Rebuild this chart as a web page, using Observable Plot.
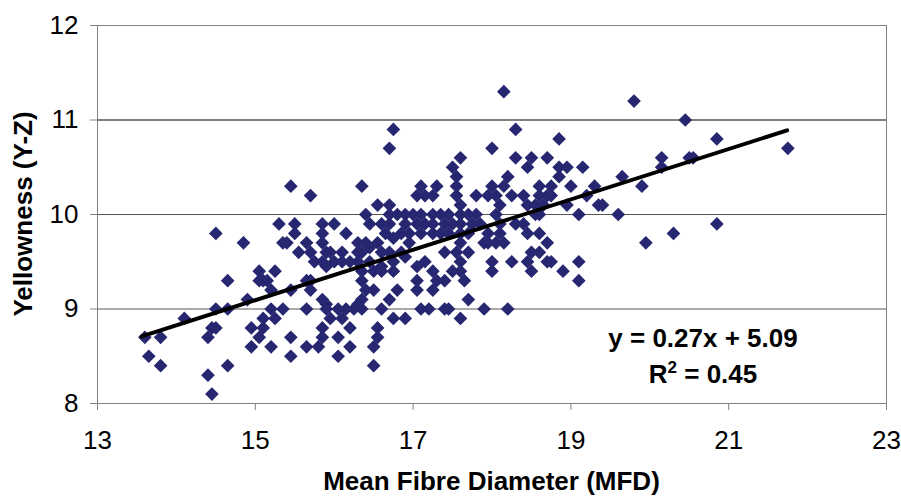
<!DOCTYPE html>
<html>
<head>
<meta charset="utf-8">
<script src="https://cdn.jsdelivr.net/npm/d3@7"></script>
<script src="https://cdn.jsdelivr.net/npm/@observablehq/plot@0.6"></script>
<style>
html, body { margin: 0; padding: 0; background: #fff; }
#chart { width: 901px; height: 497px; }
</style>
</head>
<body>
<div id="chart"></div>
<script>
// Mean Fibre Diameter (x) and Yellowness (y) values
const mfd = [
  13.6, 13.65, 13.8, 13.8, 14.1, 14.4, 14.45, 14.5, 14.4, 14.45,
  14.5, 14.5, 14.65, 14.65, 14.65, 14.85, 14.9, 14.95, 14.95, 15.05,
  15.05, 15.1, 15.15, 15.2, 15.1, 15.1, 15.05, 15.2, 15.25, 15.2,
  15.25, 15.35, 15.45, 15.45, 15.45, 15.45, 15.3, 15.35, 15.4, 15.5,
  15.5, 15.55, 15.7, 16.35, 16.55, 16.7, 16.4, 16.7, 16.8, 15.85,
  16.0, 15.85, 16.15, 15.65, 15.7, 15.85, 15.9, 15.85, 15.95, 16.1,
  16.2, 15.75, 15.9, 16.0, 16.1, 16.3, 16.4, 16.55, 16.65, 16.75,
  16.3, 16.35, 16.45, 16.6, 16.7, 16.3, 16.45, 16.6, 16.75, 16.35,
  16.5, 16.6, 16.75, 15.65, 15.7, 15.7, 15.85, 15.9, 16.35, 16.4,
  16.5, 16.35, 16.3, 16.7, 16.8, 15.65, 15.9, 16.05, 16.15, 16.25,
  16.35, 16.6, 15.95, 16.1, 15.85, 16.2, 16.75, 16.55, 15.65, 15.8,
  16.05, 16.2, 16.5, 16.5, 16.55, 16.05, 15.85, 16.9, 17.6, 17.1,
  17.2, 17.4, 17.45, 17.9, 17.7, 17.05, 17.25, 17.4, 17.05, 17.3,
  17.15, 17.5, 17.6, 17.65, 18.0, 16.75, 16.7, 17.6, 17.5, 17.55,
  18.0, 18.3, 18.5, 18.7, 18.45, 18.2, 18.15, 18.0, 17.1, 17.3,
  17.55, 17.05, 17.15, 17.25, 17.55, 17.8, 17.95, 18.05, 18.25, 18.4,
  18.6, 18.7, 17.6, 18.1, 18.45, 18.55, 18.6,
  16.9, 17.0, 17.1, 17.25, 17.35, 17.45, 17.6, 17.7, 17.8,
  16.9, 17.05, 17.15, 17.25, 17.4, 17.5, 17.6, 17.75,
  16.85, 16.95, 17.1, 17.25, 17.35, 17.45, 17.6, 17.7,
  18.05, 18.1, 18.3, 18.6, 18.7, 18.45, 18.5, 18.6, 18.7, 18.45,
  18.5, 18.25, 18.0, 17.9, 17.95, 18.1, 18.15, 17.7, 17.6, 17.4,
  17.55, 17.05, 17.25, 17.6, 18.2, 18.15, 19.8, 18.3, 18.85, 18.85,
  18.95, 19.15, 18.85, 19.65, 20.15, 20.15, 19.9, 18.75, 19.0, 19.3,
  18.6, 18.75, 19.2, 18.65, 18.95, 19.35, 19.4, 18.55, 19.1, 19.6,
  19.95, 20.3, 18.4, 17.85, 18.75, 18.9, 19.1, 19.1, 17.95, 18.05,
  20.5, 20.55, 20.45, 20.85, 21.75, 20.85, 16.45, 16.6, 16.7, 16.85,
  16.95, 16.9
];
const yz = [
  8.7, 8.5, 8.7, 8.4, 8.9, 8.7, 8.8, 8.8, 8.3, 8.1,
  9.8, 9.0, 9.0, 9.3, 8.4, 9.7, 9.1, 8.8, 8.6, 9.4,
  9.3, 9.3, 9.3, 9.2, 8.9, 8.8, 8.7, 9.0, 8.9, 8.6,
  9.4, 9.0, 9.2, 8.7, 8.5, 10.3, 9.9, 9.7, 9.7, 9.9,
  9.8, 9.6, 10.2, 10.3, 10.1, 10.1, 10.0, 10.0, 10.0, 9.9,
  9.9, 9.8, 9.8, 9.7, 9.6, 9.7, 9.6, 9.5, 9.6, 9.6,
  9.5, 9.5, 9.45, 9.5, 9.5, 9.7, 9.7, 9.7, 9.8, 9.75,
  9.6, 9.6, 9.65, 9.6, 9.6, 9.5, 9.5, 9.45, 9.5, 9.4,
  9.4, 9.4, 9.4, 9.3, 9.3, 9.2, 9.1, 9.05, 9.3, 9.2,
  9.2, 9.1, 9.05, 9.1, 9.2, 9.0, 9.0, 9.0, 9.0, 9.0,
  9.0, 9.0, 8.9, 8.9, 8.8, 8.8, 8.9, 8.8, 8.6, 8.6,
  8.5, 8.6, 8.4, 8.6, 8.7, 8.7, 8.7, 8.9, 8.9, 9.0,
  9.0, 9.0, 9.0, 9.0, 9.1, 9.2, 9.2, 9.3, 9.3, 9.3,
  9.5, 9.4, 9.5, 9.3, 9.5, 10.9, 10.7, 10.6, 10.5, 10.4,
  10.7, 10.6, 10.6, 10.6, 10.5, 10.4, 10.3, 10.3, 10.3, 10.3,
  10.3, 10.2, 10.2, 10.2, 10.2, 10.2, 10.2, 10.2, 10.2, 10.2,
  10.3, 10.2, 10.1, 10.1, 10.1, 10.1, 10.0,
  10.0, 10.0, 10.0, 10.0, 10.0, 10.0, 10.0, 10.0, 10.0,
  9.9, 9.9, 9.9, 9.9, 9.9, 9.9, 9.9, 9.9,
  9.8, 9.8, 9.8, 9.8, 9.8, 9.8, 9.8, 9.8,
  10.0, 9.9, 9.9, 9.8, 9.7, 9.8, 9.6, 9.6, 9.5, 9.5,
  9.4, 9.5, 9.4, 9.7, 9.8, 9.8, 9.7, 9.6, 9.7, 9.6,
  9.6, 9.45, 9.4, 9.4, 9.0, 11.3, 11.2, 10.9, 10.8, 10.5,
  10.5, 10.5, 10.4, 10.4, 10.6, 10.5, 10.3, 10.3, 10.3, 10.3,
  10.2, 10.2, 10.2, 10.1, 10.1, 10.1, 10.1, 10.0, 10.0, 10.0,
  9.7, 9.8, 9.9, 9.9, 9.5, 9.4, 9.5, 9.3, 9.7, 9.7,
  10.6, 10.6, 11.0, 10.8, 10.7, 9.9, 9.9, 9.9, 9.9, 9.6,
  9.7, 9.55
];
// Linear trendline end points as drawn
const trendX = [13.56, 21.74];
const trendY = [8.71, 10.89];

const xTicks = [13, 15, 17, 19, 21, 23];
const yTicks = [8, 9, 10, 11, 12];
const xTitle = "Mean Fibre Diameter (MFD)";
const yTitle = "Yellowness (Y-Z)";
const eqText = "y = 0.27x + 5.09";
const r2Value = "0.45";

const points = mfd.map((x, i) => ({x, y: yz[i]}));
const trend = trendX.map((x, i) => ({x, y: trendY[i]}));

const FONT = "'Liberation Sans', Arial, Helvetica, sans-serif";
const NAVY = "#262671";

// Excel-style diamond: a square rotated 45 degrees
const diamond = {
  draw(context, size) {
    const h = Math.sqrt(size / 2);
    context.moveTo(0, -h);
    context.lineTo(h, 0);
    context.lineTo(0, h);
    context.lineTo(-h, 0);
    context.closePath();
  }
};

const chart = Plot.plot({
  width: 901,
  height: 497,
  marginLeft: 97,
  marginRight: 15,
  marginTop: 25,
  marginBottom: 94,
  x: {domain: [13, 23]},
  y: {domain: [8, 12]},
  style: {fontFamily: FONT, background: "#fff", color: "#000"},
  marks: [
    Plot.ruleY([9, 10], {stroke: "#555"}),
    Plot.ruleY([11], {stroke: "#000"}),
    Plot.frame({stroke: "#808080"}),
    Plot.axisY({ticks: yTicks, tickSize: 7, tickPadding: 12, fontSize: 26, stroke: "#808080", fill: "#000", label: null, tickFormat: d => String(d)}),
    Plot.axisX({ticks: xTicks, tickSize: 7, tickPadding: 20, fontSize: 26, stroke: "#808080", fill: "#000", label: null, tickFormat: d => String(d)}),
    Plot.dot(points, {x: "x", y: "y", symbol: diamond, r: 5.46, fill: NAVY, stroke: "none"}),
    Plot.line(trend, {x: "x", y: "y", stroke: "#000", strokeWidth: 4})
  ]
});

document.getElementById("chart").appendChild(chart);

const svg = d3.select(chart);
svg.append("text")
  .attr("x", 491.5).attr("y", 490)
  .attr("text-anchor", "middle")
  .attr("font-family", FONT).attr("font-size", 26).attr("font-weight", "bold")
  .attr("fill", "#000")
  .text(xTitle);

svg.append("text")
  .attr("transform", "translate(32,214) rotate(-90)")
  .attr("text-anchor", "middle")
  .attr("font-family", FONT).attr("font-size", 26).attr("font-weight", "bold")
  .attr("fill", "#000")
  .text(yTitle);

svg.append("text")
  .attr("x", 703).attr("y", 347)
  .attr("text-anchor", "middle")
  .attr("font-family", FONT).attr("font-size", 26).attr("font-weight", "bold")
  .attr("fill", "#000")
  .text(eqText);

const r2 = svg.append("text")
  .attr("x", 703).attr("y", 383)
  .attr("text-anchor", "middle")
  .attr("font-family", FONT).attr("font-size", 26).attr("font-weight", "bold")
  .attr("fill", "#000");
r2.append("tspan").text("R");
r2.append("tspan").attr("dy", -10).attr("font-size", 17).text("2");
r2.append("tspan").attr("dy", 10).text(" = " + r2Value);
</script>
</body>
</html>
